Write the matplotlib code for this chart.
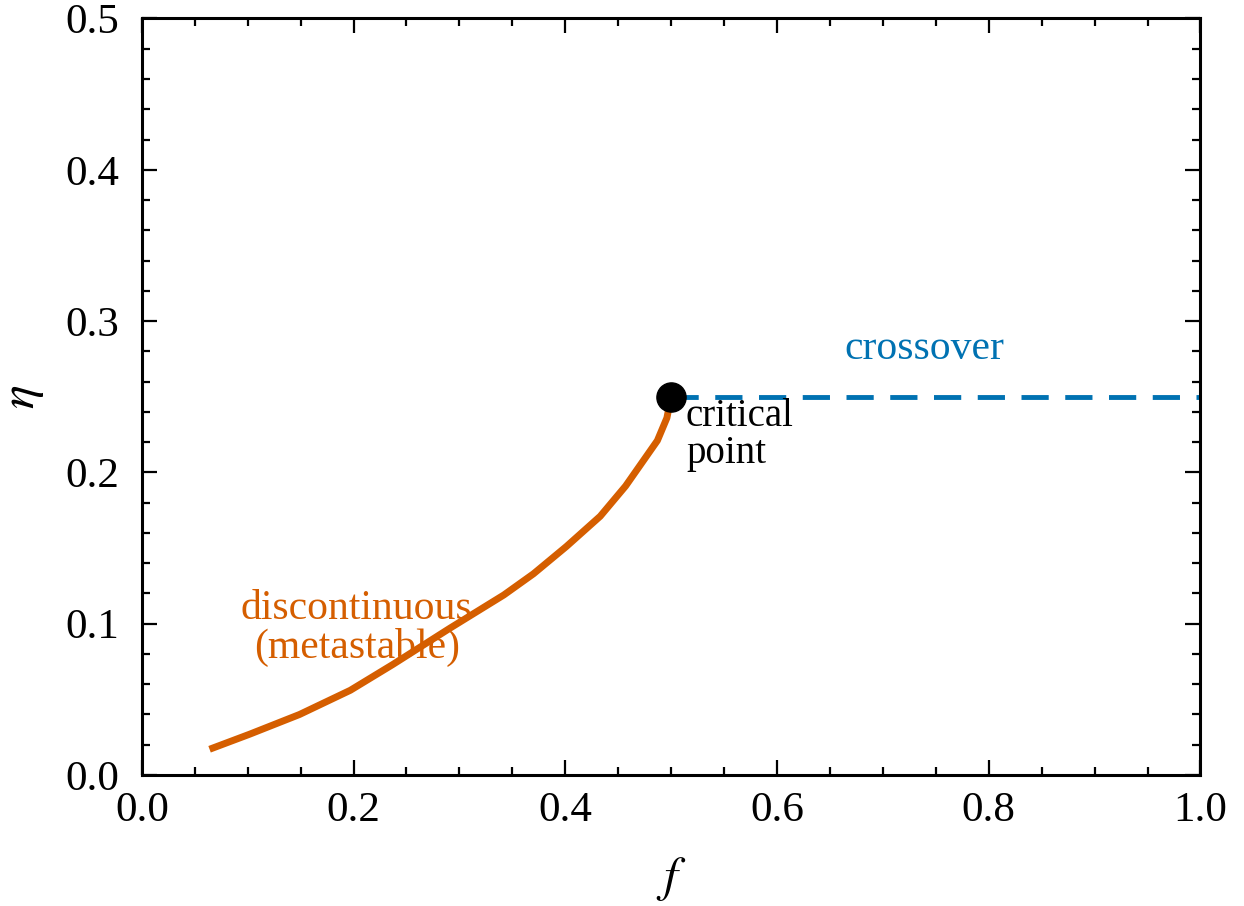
import matplotlib
matplotlib.use("Agg")
import matplotlib.pyplot as plt
from matplotlib.ticker import MultipleLocator, FormatStrFormatter

plt.rcParams['font.family'] = ['Liberation Serif', 'DejaVu Serif']
plt.rcParams['mathtext.fontset'] = 'stix'

# discontinuous (metastable) branch
f_disc = [0.064, 0.102, 0.149, 0.197, 0.237, 0.291, 0.342, 0.370, 0.401,
          0.433, 0.457, 0.471, 0.487, 0.496, 0.5]
eta_disc = [0.017, 0.027, 0.040, 0.056, 0.073, 0.097, 0.119, 0.133, 0.151,
            0.171, 0.191, 0.205, 0.221, 0.236, 0.25]

# crossover line
f_cross = [0.5, 1.0]
eta_cross = [0.25, 0.25]

# critical point
f_crit = 0.5
eta_crit = 0.25

orange = '#D55E00'
blue = '#0072B2'

fig = plt.figure(figsize=(12.44, 9.06), dpi=100)
ax = fig.add_axes([0.114, 0.1446, 0.851, 0.835])

ax.plot(f_disc, eta_disc, color=orange, lw=5, solid_capstyle='butt',
        solid_joinstyle='round')
ax.plot(f_cross, eta_cross, color=blue, lw=3.5, ls=(0, (5.6, 3.4)))
ax.plot([f_crit], [eta_crit], 'o', color='black', ms=21, zorder=5)

ax.text(0.739, 0.282, 'crossover', color=blue, fontsize=30, ha='center', va='center')
ax.text(0.514, 0.249, 'critical\npoint', color='black', fontsize=28,
        ha='left', va='top', linespacing=1.0)
ax.text(0.203, 0.097, 'discontinuous\n(metastable)', color=orange, fontsize=30,
        ha='center', va='center', linespacing=1.0)

ax.set_xlim(0, 1)
ax.set_ylim(0, 0.5)
ax.xaxis.set_major_locator(MultipleLocator(0.2))
ax.xaxis.set_minor_locator(MultipleLocator(0.05))
ax.yaxis.set_major_locator(MultipleLocator(0.1))
ax.yaxis.set_minor_locator(MultipleLocator(0.02))
ax.xaxis.set_major_formatter(FormatStrFormatter('%.1f'))
ax.yaxis.set_major_formatter(FormatStrFormatter('%.1f'))

ax.tick_params(which='both', direction='in', top=True, right=True, labelsize=31)
ax.tick_params(which='major', length=11, width=1.6)
ax.tick_params(which='minor', length=6, width=1.6)
ax.tick_params(axis='x', which='major', pad=12)
ax.tick_params(axis='y', which='major', pad=16)
for s in ax.spines.values():
    s.set_linewidth(2.2)

ax.set_xlabel('$f$', fontsize=36, labelpad=18)
ax.set_ylabel(r'$\eta$', fontsize=36, labelpad=14)

fig.savefig('out.png', dpi=100)
